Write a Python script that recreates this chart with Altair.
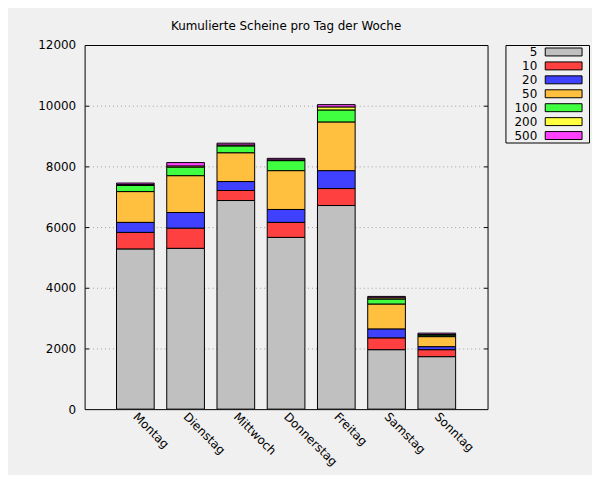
import altair as alt
import pandas as pd

days = ["Montag", "Dienstag", "Mittwoch", "Donnerstag", "Freitag", "Samstag", "Sonntag"]
denoms = ["5", "10", "20", "50", "100", "200", "500"]
colors = ["#c0c0c0", "#ff4040", "#4040ff", "#ffc040", "#40ff40", "#ffff40", "#ff40ff"]

v5 = [5280, 5300, 6875, 5660, 6710, 1960, 1730]
v10 = [545, 665, 330, 495, 560, 390, 230]
v20 = [330, 515, 295, 425, 590, 295, 100]
v50 = [1015, 1215, 950, 1280, 1605, 820, 330]
v100 = [200, 280, 225, 330, 395, 165, 50]
v200 = [30, 40, 30, 25, 100, 40, 20]
v500 = [50, 110, 60, 50, 75, 45, 45]

series = [v5, v10, v20, v50, v100, v200, v500]
y_ticks = [0, 2000, 4000, 6000, 8000, 10000, 12000]
inner_ticks = [2000, 4000, 6000, 8000, 10000]
title_text = "Kumulierte Scheine pro Tag der Woche"

rows = []
for rank, (d, vals) in enumerate(zip(denoms, series)):
    for day, v in zip(days, vals):
        rows.append({"Tag": day, "Schein": d, "Anzahl": v, "rank": rank})
df = pd.DataFrame(rows)
tick_df = pd.DataFrame({"Anzahl": inner_ticks})
leg_df = pd.DataFrame({"Schein": denoms})

FONT = "DejaVu Sans"
yscale = alt.Scale(domain=[0, 12000], nice=False)
cscale = alt.Scale(domain=denoms, range=colors)


def title_params(text):
    return alt.TitleParams(text, fontSize=12, fontWeight="normal", font=FONT,
                           color="black", anchor="middle", offset=6)


bars = alt.Chart(df).mark_bar(stroke="black", strokeWidth=1).encode(
    x=alt.X(
        "Tag:N", sort=days, title=None,
        scale=alt.Scale(paddingInner=0.25, paddingOuter=0.635),
        axis=alt.Axis(labelAngle=45, labelAlign="left", labelBaseline="middle",
                      labelFontSize=12, labelFont=FONT, labelColor="black",
                      ticks=False, tickSize=0, domain=False, labelPadding=5),
    ),
    y=alt.Y(
        "Anzahl:Q", stack="zero", title=None, scale=yscale,
        axis=alt.Axis(values=y_ticks, format="d", grid=True, gridDash=[1, 3],
                      gridColor="#a0a0a0", gridWidth=1,
                      gridOpacity={"condition": {"test": "datum.value % 12000 === 0", "value": 0}, "value": 1},
                      ticks=True, tickSize={"expr": "-4"}, tickColor="black", tickWidth=1,
                      tickOpacity={"condition": {"test": "datum.value % 12000 === 0", "value": 0}, "value": 1},
                      domain=False, labelPadding=13,
                      labelFontSize=12, labelFont=FONT, labelColor="black"),
    ),
    color=alt.Color("Schein:N", sort=denoms, scale=cscale, legend=None),
    order=alt.Order("rank:Q", sort="ascending"),
)

right_ticks = alt.Chart(tick_df).mark_point(opacity=0).encode(
    y=alt.Y(
        "Anzahl:Q", title=None, scale=yscale,
        axis=alt.Axis(orient="right", values=inner_ticks, labels=False, grid=False,
                      ticks=True, tickSize={"expr": "-4"}, tickColor="black", tickWidth=1,
                      domain=False),
    ),
)

main = alt.layer(bars, right_ticks).resolve_axis(y="independent").properties(
    width=405, height=366, title=title_params(title_text),
)

# hand-made legend: label left of a wide swatch, boxed by the view frame
leg_y = alt.Y("Schein:N", sort=denoms, axis=None,
              scale=alt.Scale(paddingInner=0, paddingOuter=0))
leg_text = alt.Chart(leg_df).mark_text(
    align="right", baseline="middle", fontSize=12, font=FONT, color="black"
).encode(y=leg_y, x=alt.value(32), text="Schein:N")
leg_swatch = alt.Chart(leg_df).mark_point(
    shape="M-1,-0.216L1,-0.216L1,0.216L-1,0.216Z", size=1369, filled=True,
    stroke="black", strokeWidth=1, opacity=1,
).encode(y=leg_y, x=alt.value(58.5),
         color=alt.Color("Schein:N", sort=denoms, scale=cscale, legend=None))
legend = alt.layer(leg_text, leg_swatch).properties(
    width=84, height=98, title=title_params(" "),
)

chart = alt.hconcat(main, legend, spacing=16).properties(
    padding={"left": 29, "top": 10, "right": 2, "bottom": 5},
    background="#f0f0f0",
).configure_view(stroke="black", strokeWidth=1, fill="#f0f0f0")

chart.save("out.html", embed_options={"renderer": "svg", "actions": False})
